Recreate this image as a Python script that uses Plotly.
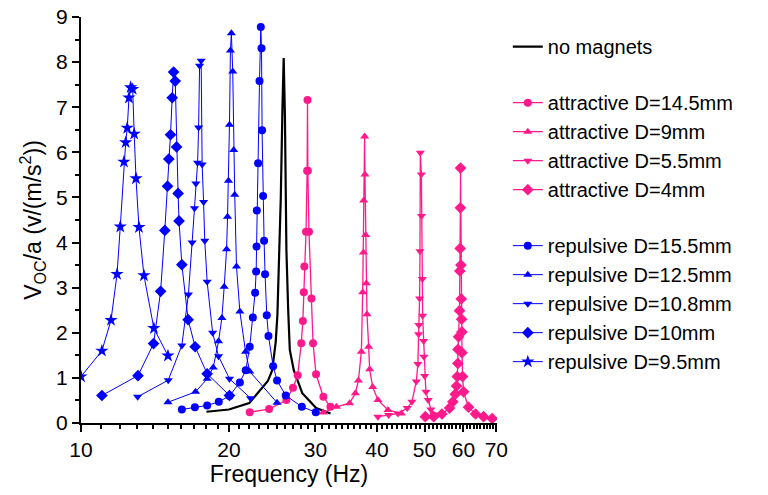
import plotly.graph_objects as go

# ---------------- data (frequency in Hz, V_OC/a) ----------------
nomag_f = [18.0, 20.0, 22.0, 23.1, 24.0, 24.5, 24.9, 25.1, 25.3, 25.5, 25.7, 25.85, 26.0, 26.18, 26.4, 26.6, 27.1, 28.2, 30.1, 32.2]
nomag_v = [0.25, 0.30, 0.44, 0.72, 0.93, 1.17, 1.8, 2.4, 3.5, 5.0, 7.0, 8.09, 6.8, 3.83, 2.5, 1.62, 1.17, 0.66, 0.33, 0.21]

att145_f = [22.05, 24.14, 26.18, 27.0, 27.6, 28.07, 28.28, 28.4, 28.48, 28.7, 28.85, 28.9, 28.95, 29.1, 29.44, 29.66, 30.08, 31.13, 32.17]
att145_v = [0.24, 0.31, 0.51, 0.78, 1.06, 1.77, 2.26, 2.90, 3.47, 4.24, 5.59, 7.16, 5.59, 4.24, 2.76, 1.77, 1.08, 0.58, 0.36]

att9_f = [31.1, 33.1, 35.2, 36.17, 36.68, 37.2, 37.43, 37.55, 37.6, 37.77, 37.83, 37.96, 38.08, 38.19, 38.49, 38.67, 39.22, 40.2, 42.13, 44.86]
att9_v = [0.23, 0.36, 0.44, 0.66, 0.94, 1.58, 2.90, 3.78, 4.93, 6.35, 5.51, 4.17, 3.10, 2.41, 1.69, 1.19, 0.80, 0.51, 0.29, 0.21]

att55_f = [40.2, 42.27, 44.15, 46.13, 47.14, 48.11, 48.48, 48.64, 48.7, 48.87, 48.95, 49.03, 49.27, 49.3, 49.5, 49.56, 49.8, 49.87, 50.03, 50.33, 50.89, 51.52, 52.24]
att55_v = [0.14, 0.18, 0.21, 0.33, 0.47, 0.92, 1.31, 1.97, 2.17, 2.76, 3.81, 5.99, 5.51, 4.59, 3.19, 2.38, 1.82, 1.47, 1.04, 0.69, 0.51, 0.30, 0.19]

att4_f = [50.19, 52.2, 54.26, 56.23, 57.1, 57.75, 58.1, 58.3, 58.46, 58.5, 58.65, 58.92, 59.0, 59.1, 59.15, 59.2, 59.3, 59.39, 59.5, 59.57, 59.6, 59.76, 60.05, 61.45, 63.5, 65.94, 68.66]
att4_v = [0.14, 0.14, 0.20, 0.33, 0.47, 0.64, 0.82, 1.03, 1.32, 1.63, 1.91, 2.49, 3.37, 3.87, 4.77, 5.65, 3.5, 2.75, 2.3, 2.02, 1.56, 1.03, 0.69, 0.35, 0.20, 0.14, 0.10]

rep155_f = [16.04, 17.05, 18.06, 19.07, 20.05, 21.05, 21.64, 22.05, 22.37, 22.61, 22.72, 22.76, 22.79, 22.93, 23.08, 23.22, 23.30, 23.36, 23.47, 23.58, 23.69, 23.88, 24.07, 24.6, 25.06, 26.1, 28.14, 30.04]
rep155_v = [0.30, 0.35, 0.39, 0.47, 0.60, 0.90, 1.17, 1.69, 2.34, 2.89, 3.36, 3.91, 4.71, 5.76, 7.58, 8.78, 8.31, 6.49, 5.03, 4.04, 3.30, 2.39, 1.93, 1.26, 0.94, 0.61, 0.36, 0.24]

rep125_f = [15.03, 17.1, 18.06, 18.58, 19.05, 19.35, 19.56, 19.78, 19.87, 19.96, 20.05, 20.14, 20.23, 20.36, 20.45, 20.55, 20.72, 21.05, 21.62, 22.05, 25.06]
rep125_v = [0.46, 0.69, 0.98, 1.23, 1.81, 2.33, 3.02, 3.85, 4.57, 5.37, 6.61, 8.26, 8.64, 7.79, 6.05, 5.06, 3.47, 2.47, 1.58, 1.14, 0.45]

rep108_f = [13.04, 15.05, 16.04, 16.54, 16.83, 17.02, 17.13, 17.27, 17.35, 17.43, 17.56, 17.64, 17.76, 17.86, 18.06, 18.53, 19.05, 20.05, 22.13]
rep108_v = [0.58, 0.95, 1.72, 2.85, 4.00, 4.76, 5.31, 5.77, 6.55, 7.92, 8.03, 5.73, 4.90, 4.04, 3.13, 2.00, 1.48, 0.98, 0.55]

rep10_f = [11.03, 13.06, 14.05, 14.52, 14.81, 15.0, 15.09, 15.21, 15.33, 15.43, 15.55, 15.65, 15.76, 15.83, 16.04, 16.52, 17.07, 18.06, 20.05]
rep10_v = [0.61, 1.05, 1.76, 2.92, 4.27, 5.25, 5.85, 6.39, 7.21, 7.78, 7.58, 6.12, 5.09, 4.48, 3.51, 2.29, 1.69, 1.09, 0.61]

rep95_f = [10.0, 11.03, 11.51, 11.84, 12.02, 12.23, 12.33, 12.42, 12.52, 12.62, 12.74, 12.83, 12.94, 13.12, 13.43, 14.07, 15.03]
rep95_v = [1.03, 1.60, 2.28, 3.30, 4.35, 5.79, 6.22, 6.54, 7.21, 7.44, 7.40, 6.41, 5.42, 4.34, 3.27, 2.10, 1.49]

x_tick_vals = [10, 20, 30, 40, 50, 60, 70]
x_tick_text = ["10", "20", "30", "40", "50", "60", "70"]
x_minor_vals = [v for v in range(11, 71) if v % 10 != 0]
y_tick_vals = [0, 1, 2, 3, 4, 5, 6, 7, 8, 9]

# ---------------- style ----------------
BLUE = "#0000ff"
PINK = "#ff1a8c"
FONT = "Liberation Sans, Arial, sans-serif"

fig = go.Figure()

fig.add_trace(go.Scatter(x=nomag_f, y=nomag_v, mode="lines", name="no magnets",
                         line=dict(color="black", width=2.2), legendgroup="a"))

att = [
    (att145_f, att145_v, "circle", 8, "attractive D=14.5mm"),
    (att9_f, att9_v, "triangle-up", 8, "attractive D=9mm"),
    (att55_f, att55_v, "triangle-down", 8, "attractive D=5.5mm"),
    (att4_f, att4_v, "diamond", 9, "attractive D=4mm"),
]
for f, v, sym, sz, nm in att:
    fig.add_trace(go.Scatter(x=f, y=v, mode="lines+markers", name=nm, legendgroup="b",
                             line=dict(color=PINK, width=1.3),
                             marker=dict(symbol=sym, size=sz, color=PINK)))

rep = [
    (rep155_f, rep155_v, "circle", 8, "repulsive D=15.5mm"),
    (rep125_f, rep125_v, "triangle-up", 8, "repulsive D=12.5mm"),
    (rep108_f, rep108_v, "triangle-down", 8, "repulsive D=10.8mm"),
    (rep10_f, rep10_v, "diamond", 9, "repulsive D=10mm"),
    (rep95_f, rep95_v, "star", 10, "repulsive D=9.5mm"),
]
for f, v, sym, sz, nm in rep:
    fig.add_trace(go.Scatter(x=f, y=v, mode="lines+markers", name=nm, legendgroup="c",
                             line=dict(color=BLUE, width=1),
                             marker=dict(symbol=sym, size=sz, color=BLUE)))

fig.update_layout(
    width=768, height=495,
    margin=dict(l=73, r=279, t=9, b=80, autoexpand=False),
    paper_bgcolor="white", plot_bgcolor="white",
    font=dict(family=FONT, color="black", size=21),
    showlegend=True,
    legend=dict(x=1.026, y=0.975, xanchor="left", yanchor="top",
                font=dict(size=20, family=FONT), tracegroupgap=27,
                bgcolor="rgba(0,0,0,0)", traceorder="grouped"),
    xaxis=dict(type="log", range=[1, 1.8465], showgrid=False, zeroline=False,
               automargin=False, ticklabeloverflow="allow",
               showline=True, linecolor="black", linewidth=2, mirror=False,
               ticks="outside", ticklen=7, tickwidth=2, tickcolor="black",
               tickvals=x_tick_vals, ticktext=x_tick_text,
               tickfont=dict(size=21, family=FONT),
               minor=dict(tickvals=x_minor_vals, ticks="outside", ticklen=4,
                          tickwidth=1.5, tickcolor="black", showgrid=False),
               title=dict(text="Frequency (Hz)", font=dict(size=23, family=FONT), standoff=0)),
    yaxis=dict(range=[0, 9], showgrid=False, zeroline=False,
               automargin=False, ticklabeloverflow="allow",
               showline=True, linecolor="black", linewidth=2, mirror=False,
               ticks="outside", ticklen=7, tickwidth=2, tickcolor="black",
               tickvals=y_tick_vals, tickfont=dict(size=21, family=FONT),
               minor=dict(dtick=0.5, ticks="outside", ticklen=4, tickwidth=1.5,
                          tickcolor="black", showgrid=False),
               title=dict(text="V<sub>OC</sub>/a (v/(m/s<sup>2</sup>))",
                          font=dict(size=23, family=FONT), standoff=8)),
)

fig.write_html("out.html")
